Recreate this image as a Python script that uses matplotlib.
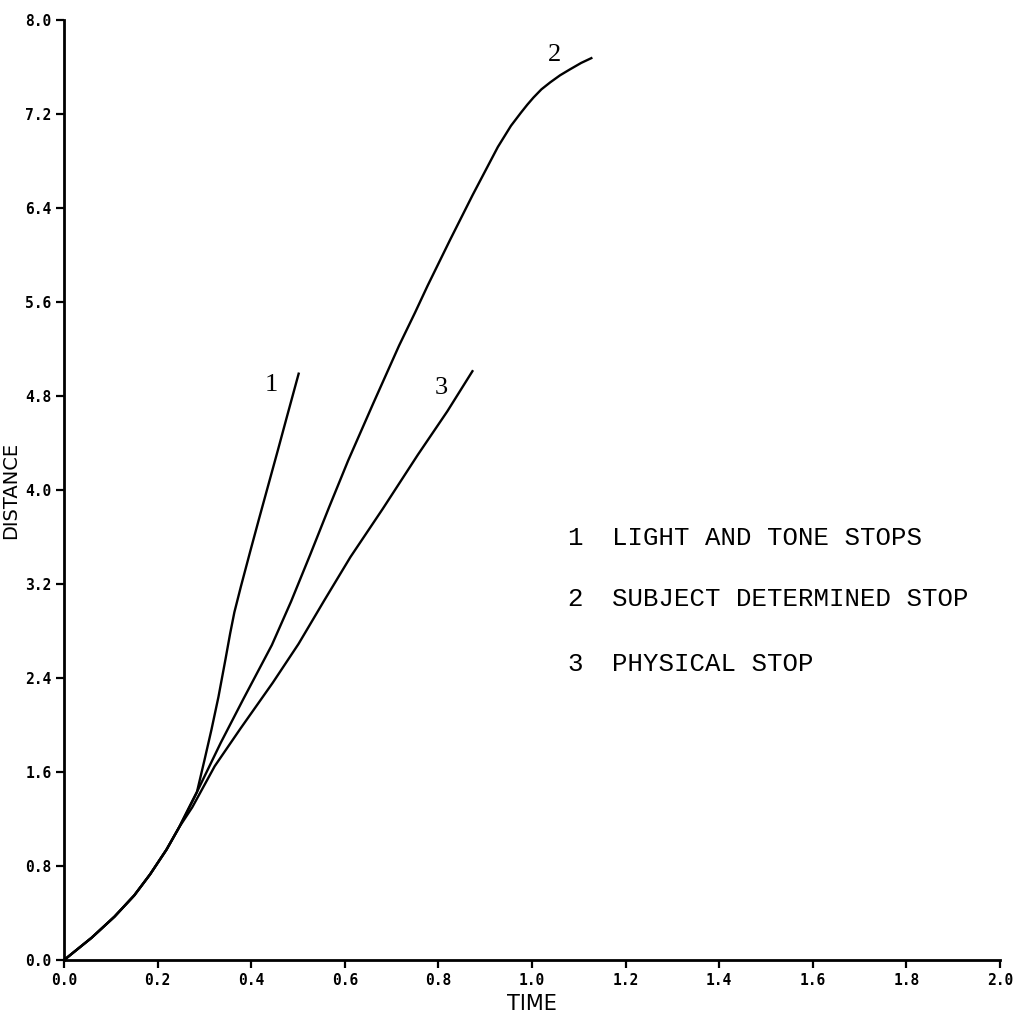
import numpy as np
import matplotlib
matplotlib.use('Agg')
import matplotlib.pyplot as plt

# shared start of all three curves
t_common = [0.0, 0.059, 0.108, 0.150, 0.184, 0.219, 0.246]
d_common = [0.0, 0.19, 0.37, 0.55, 0.73, 0.94, 1.13]

# 1 and 2 run together a little longer
t_12 = [0.284]
d_12 = [1.43]

# curve 1 - light and tone stops
t1 = [0.300, 0.315, 0.330, 0.345, 0.355, 0.364, 0.378, 0.398, 0.417, 0.437, 0.457, 0.476, 0.502]
d1 = [1.70, 1.96, 2.24, 2.56, 2.78, 2.96, 3.18, 3.48, 3.76, 4.05, 4.34, 4.62, 5.00]

# curve 2 - subject determined stop
t2 = [0.335, 0.383, 0.444, 0.485, 0.526, 0.566, 0.607, 0.661, 0.716, 0.750,
      0.777, 0.825, 0.873, 0.927, 0.955, 0.976, 0.990, 1.003, 1.020, 1.039,
      1.060, 1.081, 1.105, 1.129]
d2 = [1.85, 2.22, 2.68, 3.05, 3.45, 3.85, 4.25, 4.74, 5.23, 5.51,
      5.74, 6.13, 6.51, 6.92, 7.10, 7.21, 7.28, 7.34, 7.41, 7.47,
      7.53, 7.58, 7.635, 7.68]

# curve 3 - physical stop
t3 = [0.274, 0.322, 0.377, 0.446, 0.501, 0.556, 0.612, 0.681, 0.756, 0.819, 0.874]
d3 = [1.30, 1.65, 1.97, 2.36, 2.69, 3.06, 3.43, 3.84, 4.30, 4.67, 5.02]

legend_nums = ['1', '2', '3']
legend_text = ['LIGHT AND TONE STOPS', 'SUBJECT DETERMINED STOP', 'PHYSICAL STOP']

x_ticks = np.arange(0, 2.01, 0.2)
y_ticks = np.arange(0, 8.01, 0.8)

fig = plt.figure(figsize=(10.13, 10.17), dpi=100)
ax = fig.add_axes([0.0632, 0.056, 0.924, 0.9243])

line_kw = dict(color='black', lw=1.7, clip_on=False, solid_capstyle='butt',
               solid_joinstyle='round')
ax.plot(t_common + t_12 + t1, d_common + d_12 + d1, **line_kw)
ax.plot(t_common + t_12 + t2, d_common + d_12 + d2, **line_kw)
ax.plot(t_common + t3, d_common + d3, **line_kw)

# curve numbers next to the line ends
ax.text(0.443, 4.89, '1', family='Liberation Serif', fontsize=19, ha='center', va='center')
ax.text(1.048, 7.70, '2', family='Liberation Serif', fontsize=19, ha='center', va='center')
ax.text(0.807, 4.87, '3', family='Liberation Serif', fontsize=19, ha='center', va='center')

# typed key
key_y = [3.59, 3.07, 2.52]
for num, txt, yy in zip(legend_nums, legend_text, key_y):
    ax.text(1.075, yy, num, family='Liberation Mono', fontsize=18.5, ha='left', va='center')
    ax.text(1.171, yy, txt, family='Liberation Mono', fontsize=18.5, ha='left', va='center')

ax.set_xlim(0, 2.0)
ax.set_ylim(0, 8.0)
ax.set_xticks(x_ticks)
ax.set_yticks(y_ticks)
ax.set_xticklabels(['%.1f' % v for v in x_ticks], family='DejaVu Sans Mono',
                   fontweight='bold', fontsize=10.5)
ax.set_yticklabels(['%.1f' % v for v in y_ticks], family='DejaVu Sans Mono',
                   fontweight='bold', fontsize=10.5)
ax.tick_params(direction='out', length=6, width=1.6, pad=3)

for side in ['top', 'right']:
    ax.spines[side].set_visible(False)
for side in ['left', 'bottom']:
    ax.spines[side].set_linewidth(2)

ax.set_xlabel('TIME', fontsize=15, labelpad=5)
ax.set_ylabel('DISTANCE', fontsize=14)
ax.yaxis.set_label_coords(-0.047, 0.5)

fig.savefig('out.png', dpi=100, facecolor='white')
